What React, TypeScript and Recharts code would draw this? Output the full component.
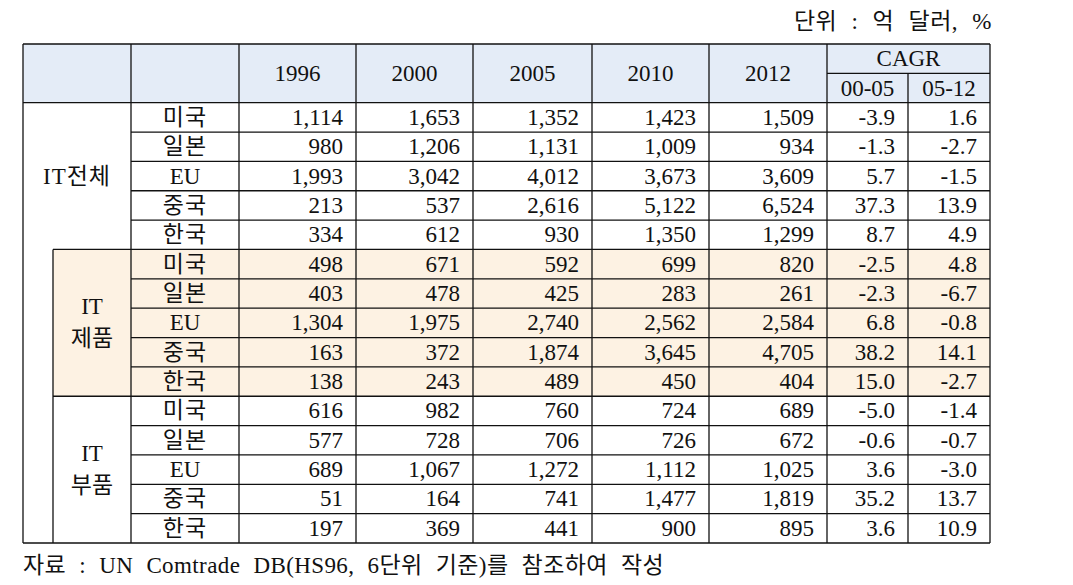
import { ComposedChart, XAxis, YAxis, ReferenceArea, ReferenceLine } from 'recharts'

// 단위 : 억 달러, %
const years = ['1996', '2000', '2005', '2010', '2012']
const cagrPeriods = ['00-05', '05-12']
const countries = ['미국', '일본', 'EU', '중국', '한국']
const groupLabels = [['IT전체'], ['IT', '제품'], ['IT', '부품']]

const itTotal = [
  [1114, 1653, 1352, 1423, 1509],
  [980, 1206, 1131, 1009, 934],
  [1993, 3042, 4012, 3673, 3609],
  [213, 537, 2616, 5122, 6524],
  [334, 612, 930, 1350, 1299],
]
const itTotalCagr = [[-3.9, 1.6], [-1.3, -2.7], [5.7, -1.5], [37.3, 13.9], [8.7, 4.9]]

const itProducts = [
  [498, 671, 592, 699, 820],
  [403, 478, 425, 283, 261],
  [1304, 1975, 2740, 2562, 2584],
  [163, 372, 1874, 3645, 4705],
  [138, 243, 489, 450, 404],
]
const itProductsCagr = [[-2.5, 4.8], [-2.3, -6.7], [6.8, -0.8], [38.2, 14.1], [15.0, -2.7]]

const itParts = [
  [616, 982, 760, 724, 689],
  [577, 728, 706, 726, 672],
  [689, 1067, 1272, 1112, 1025],
  [51, 164, 741, 1477, 1819],
  [197, 369, 441, 900, 895],
]
const itPartsCagr = [[-5.0, -1.4], [-0.6, -0.7], [3.6, -3.0], [35.2, 13.7], [3.6, 10.9]]

const groupValues = [itTotal, itProducts, itParts]
const groupCagr = [itTotalCagr, itProductsCagr, itPartsCagr]

// layout: column edges (table px), rows are bands on the y axis
const colEdges = [0, 108, 216, 333, 450, 569, 686, 804, 885, 967]
const subColEdge = 30
const headerRows = 2
const rowsPerGroup = countries.length
const totalRows = headerRows + groupLabels.length * rowsPerGroup
const FONT = "'Liberation Serif', 'Noto Sans CJK KR', serif"
const INK = '#111'

type Cell = { key: string; x1: number; x2: number; y1: number; y2: number; lines: string[]; align: 'center' | 'right' }

const fmtNum = (v: number) => v.toLocaleString('en-US')
const fmtPct = (v: number) => v.toFixed(1)

function buildCells(): Cell[] {
  const cells: Cell[] = []
  years.forEach((y, i) => {
    cells.push({ key: 'h' + y, x1: colEdges[i + 2], x2: colEdges[i + 3], y1: 0, y2: headerRows, lines: [y], align: 'center' })
  })
  cells.push({ key: 'hcagr', x1: colEdges[7], x2: colEdges[9], y1: 0, y2: 1, lines: ['CAGR'], align: 'center' })
  cagrPeriods.forEach((p, i) => {
    cells.push({ key: 'hp' + p, x1: colEdges[7 + i], x2: colEdges[8 + i], y1: 1, y2: 2, lines: [p], align: 'center' })
  })
  groupLabels.forEach((lbl, g) => {
    const top = headerRows + g * rowsPerGroup
    cells.push({ key: 'g' + g, x1: g === 0 ? colEdges[0] : subColEdge, x2: colEdges[1], y1: top, y2: top + rowsPerGroup, lines: lbl, align: 'center' })
    countries.forEach((c, r) => {
      const y1 = top + r
      cells.push({ key: `c${g}-${r}`, x1: colEdges[1], x2: colEdges[2], y1, y2: y1 + 1, lines: [c], align: 'center' })
      groupValues[g][r].forEach((v, k) => {
        cells.push({ key: `v${g}-${r}-${k}`, x1: colEdges[k + 2], x2: colEdges[k + 3], y1, y2: y1 + 1, lines: [fmtNum(v)], align: 'right' })
      })
      groupCagr[g][r].forEach((v, k) => {
        cells.push({ key: `p${g}-${r}-${k}`, x1: colEdges[k + 7], x2: colEdges[k + 8], y1, y2: y1 + 1, lines: [fmtPct(v)], align: 'right' })
      })
    })
  })
  return cells
}

type Seg = [[number, number], [number, number]]

function buildLines(): Seg[] {
  const last = colEdges[colEdges.length - 1]
  const segs: Seg[] = []
  segs.push([[0, 0], [last, 0]])
  segs.push([[colEdges[7], 1], [last, 1]])
  segs.push([[0, headerRows], [last, headerRows]])
  for (let r = headerRows + 1; r < totalRows; r++) {
    const groupStart = (r - headerRows) % rowsPerGroup === 0
    segs.push([[groupStart ? subColEdge : colEdges[1], r], [last, r]])
  }
  segs.push([[0, totalRows], [last, totalRows]])
  segs.push([[0, 0], [0, totalRows]])
  segs.push([[subColEdge, headerRows + rowsPerGroup], [subColEdge, totalRows]])
  for (let i = 1; i <= 7; i++) segs.push([[colEdges[i], 0], [colEdges[i], totalRows]])
  segs.push([[colEdges[8], 1], [colEdges[8], totalRows]])
  segs.push([[last, 0], [last, totalRows]])
  return segs
}

const cellLabel = (lines: string[], align: 'center' | 'right') => (props: any) => {
  const vb = props.viewBox || {}
  const cx = align === 'right' ? vb.x + vb.width - 13 : vb.x + vb.width / 2
  const cy = vb.y + vb.height / 2
  const gap = 32
  return (
    <text x={cx} y={cy} textAnchor={align === 'right' ? 'end' : 'middle'} fontFamily={FONT} fontSize={23} fill={INK} letterSpacing={/[가-힣]/.test(lines[0]) ? 1 : 0}>
      {lines.map((l, i) => (
        <tspan key={i} x={cx} y={cy + (i - (lines.length - 1) / 2) * gap} dominantBaseline="central">{l}</tspan>
      ))}
    </text>
  )
}

const rowData = Array.from({ length: totalRows }, (_, i) => ({ row: i }))

export default function App() {
  const cells = buildCells()
  const segs = buildLines()
  const last = colEdges[colEdges.length - 1]
  return (
    <div style={{ position: 'absolute', left: 0, top: 0, width: 1073, height: 585, background: '#fff', fontFamily: FONT, color: INK }}>
      <div style={{ position: 'absolute', right: 1073 - 992, top: 8, fontSize: 23, lineHeight: '28px', wordSpacing: 8, letterSpacing: 0.5, whiteSpace: 'nowrap' }}>
        단위 : 억 달러, %
      </div>
      <ComposedChart width={1073} height={585} data={rowData} margin={{ top: 44, right: 1073 - 990, bottom: 42, left: 23 }}>
        <XAxis type="number" dataKey="row" domain={[0, last]} hide allowDataOverflow />
        <YAxis type="number" domain={[0, totalRows]} reversed hide allowDataOverflow />
        <ReferenceArea x1={0} x2={last} y1={0} y2={headerRows} fill="#e4ecf7" fillOpacity={1} stroke="none" ifOverflow="visible" />
        <ReferenceArea x1={subColEdge} x2={last} y1={headerRows + rowsPerGroup} y2={headerRows + 2 * rowsPerGroup} fill="#fdf2e3" fillOpacity={1} stroke="none" ifOverflow="visible" />
        {cells.map((c) => (
          <ReferenceArea key={c.key} x1={c.x1} x2={c.x2} y1={c.y1} y2={c.y2} fill="none" fillOpacity={0} stroke="none" ifOverflow="visible" label={cellLabel(c.lines, c.align)} />
        ))}
        {segs.map((s, i) => (
          <ReferenceLine key={'l' + i} segment={[{ x: s[0][0], y: s[0][1] }, { x: s[1][0], y: s[1][1] }]} stroke={INK} strokeWidth={1.3} ifOverflow="visible" />
        ))}
      </ComposedChart>
      <div style={{ position: 'absolute', left: 23, top: 552, fontSize: 23, lineHeight: '28px', wordSpacing: 7, letterSpacing: 0.4, whiteSpace: 'nowrap' }}>
        자료 : UN Comtrade DB(HS96, 6단위 기준)를 참조하여 작성
      </div>
    </div>
  )
}
